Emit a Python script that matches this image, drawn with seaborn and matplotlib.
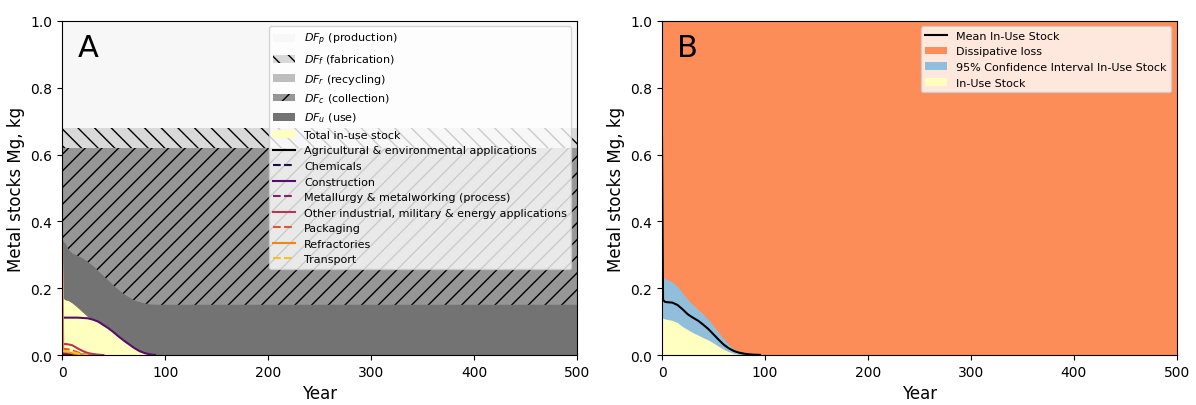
import numpy as np
import matplotlib
matplotlib.use('Agg')
import matplotlib.pyplot as plt
import seaborn as sns

# sample years
years = [0, 1, 3, 6, 10, 15, 20, 25, 30, 35, 40, 45, 50, 55, 60, 65, 70, 75, 80, 85, 90, 95, 100, 150, 200, 300, 400, 500]

# Panel A - stacked dissipation factors (upper edge of each band)
total_stock = [0.33, 0.17, 0.165, 0.163, 0.155, 0.142, 0.128, 0.114, 0.107, 0.1, 0.09, 0.08, 0.068, 0.055, 0.043, 0.032, 0.021, 0.012, 0.006, 0.002, 0.0005, 0, 0, 0, 0, 0, 0, 0]
df_use_top = [0.345, 0.34, 0.335, 0.315, 0.305, 0.298, 0.29, 0.279, 0.267, 0.252, 0.237, 0.223, 0.208, 0.195, 0.183, 0.173, 0.165, 0.16, 0.156, 0.153, 0.152, 0.152, 0.152, 0.152, 0.152, 0.152, 0.152, 0.152]
df_collection_top = 0.62
df_recycling_top = 0.62
df_fabrication_top = 0.68
df_production_top = 1.0

# sector in-use stocks (None = line has run out)
N = None
sectors = ['Agricultural & environmental applications', 'Chemicals', 'Construction',
           'Metallurgy & metalworking (process)', 'Other industrial, military & energy applications',
           'Packaging', 'Refractories', 'Transport']
agri = [0.003, 0.002, 0.002, 0.002, 0.002, 0.001, 0.001, 0, N, N, N, N, N, N, N, N, N, N, N, N, N, N, N, N, N, N, N, N]
chem = [0.004, 0.003, 0.003, 0.003, 0.002, 0.001, 0.001, 0, N, N, N, N, N, N, N, N, N, N, N, N, N, N, N, N, N, N, N, N]
constr = [0.112, 0.112, 0.112, 0.112, 0.112, 0.112, 0.111, 0.11, 0.106, 0.1, 0.09, 0.08, 0.068, 0.055, 0.043, 0.032, 0.021, 0.012, 0.006, 0.002, 0.0005, N, N, N, N, N, N, N]
metal = [0.006, 0.005, 0.005, 0.005, 0.004, 0.002, 0.001, 0, N, N, N, N, N, N, N, N, N, N, N, N, N, N, N, N, N, N, N, N]
other = [0.035, 0.033, 0.033, 0.032, 0.029, 0.02, 0.012, 0.006, 0.003, 0.001, 0, N, N, N, N, N, N, N, N, N, N, N, N, N, N, N, N, N]
pack = [0.02, 0.018, 0.018, 0.017, 0.014, 0.008, 0.004, 0.001, 0, N, N, N, N, N, N, N, N, N, N, N, N, N, N, N, N, N, N, N]
refr = [0.33, 0.012, 0.01, 0.008, 0.005, 0.003, 0.001, 0, N, N, N, N, N, N, N, N, N, N, N, N, N, N, N, N, N, N, N, N]
transp = [0.015, 0.012, 0.012, 0.011, 0.009, 0.005, 0.002, 0, N, N, N, N, N, N, N, N, N, N, N, N, N, N, N, N, N, N, N, N]
sector_vals = [agri, chem, constr, metal, other, pack, refr, transp]

# Panel B - mean in-use stock with 95% CI
mean_stock = [0.65, 0.165, 0.159, 0.158, 0.157, 0.15, 0.137, 0.122, 0.112, 0.103, 0.091, 0.078, 0.062, 0.046, 0.031, 0.02, 0.012, 0.007, 0.004, 0.002, 0.001, 0.0005, N, N, N, N, N, N]
ci_upper = [0.66, 0.235, 0.228, 0.225, 0.219, 0.205, 0.186, 0.166, 0.15, 0.137, 0.122, 0.106, 0.088, 0.067, 0.048, 0.031, 0.018, 0.01, 0.005, 0.002, 0.001, 0, 0, 0, 0, 0, 0, 0]
ci_lower = [0.11, 0.11, 0.108, 0.106, 0.104, 0.097, 0.085, 0.076, 0.067, 0.06, 0.052, 0.045, 0.036, 0.026, 0.017, 0.01, 0.005, 0.002, 0.001, 0, 0, 0, 0, 0, 0, 0, 0, 0]

greys = ['#f7f7f7', '#d9d9d9', '#bdbdbd', '#969696', '#737373']
yellow = '#ffffbf'
line_cols = [plt.cm.inferno(v) for v in np.linspace(0, 0.85, 8)]
dashes = ['-', '--', '-', '--', '-', '--', '-', '--']

fig, (ax1, ax2) = plt.subplots(1, 2, figsize=(11.96, 4.06), dpi=100)
plt.subplots_adjust(left=0.052, right=0.984, bottom=0.123, top=0.946, wspace=0.165)

# ---- A ----  (each band filled from 0 and painted over, so no seams)
ax1.fill_between(years, 0, df_production_top, color=greys[0], lw=0, label=r'$DF_p$ (production)')
ax1.fill_between(years, 0, df_fabrication_top, facecolor=greys[1], edgecolor='black', hatch='\\\\', lw=0, label=r'$DF_f$ (fabrication)')
ax1.fill_between(years, 0, df_recycling_top, color=greys[2], lw=0, label=r'$DF_r$ (recycling)')
ax1.fill_between(years, 0, df_collection_top, facecolor=greys[3], edgecolor='black', hatch='//', lw=0, label=r'$DF_c$ (collection)')
ax1.fill_between(years, 0, df_use_top, color=greys[4], lw=0, label=r'$DF_u$ (use)')
ax1.fill_between(years, 0, total_stock, color=yellow, lw=0, label='Total in-use stock')

for name, vals, c, ls in zip(sectors, sector_vals, line_cols, dashes):
    y = np.array(vals, dtype=float)
    sns.lineplot(x=years, y=y, ax=ax1, color=c, linestyle=ls, lw=1.5, label=name)

ax1.set_xlim(0, 500)
ax1.set_ylim(0, 1)
ax1.set_xlabel('Year', fontsize=12)
ax1.set_ylabel('Metal stocks Mg, kg', fontsize=12)
ax1.tick_params(labelsize=10)
ax1.text(0.03, 0.965, 'A', transform=ax1.transAxes, fontsize=22, va='top', ha='left')
ax1.legend(loc='upper right', fontsize=8)

# ---- B ----
ax2.fill_between(years, 0, 1.0, color='#fc8d59', lw=0, label='Dissipative loss')
ax2.fill_between(years, 0, ci_upper, color='#91bfdb', lw=0, label='95% Confidence Interval In-Use Stock')
ax2.fill_between(years, 0, ci_lower, color=yellow, lw=0, label='In-Use Stock')
sns.lineplot(x=years, y=np.array(mean_stock, dtype=float), ax=ax2, color='black', lw=1.5, label='Mean In-Use Stock')

ax2.set_xlim(0, 500)
ax2.set_ylim(0, 1)
ax2.set_xlabel('Year', fontsize=12)
ax2.set_ylabel('Metal stocks Mg, kg', fontsize=12)
ax2.tick_params(labelsize=10)
ax2.text(0.03, 0.965, 'B', transform=ax2.transAxes, fontsize=22, va='top', ha='left')
h, l = ax2.get_legend_handles_labels()
order = [3, 0, 1, 2]
ax2.legend([h[i] for i in order], [l[i] for i in order], loc='upper right', fontsize=8)

fig.savefig('out.png', dpi=100)
